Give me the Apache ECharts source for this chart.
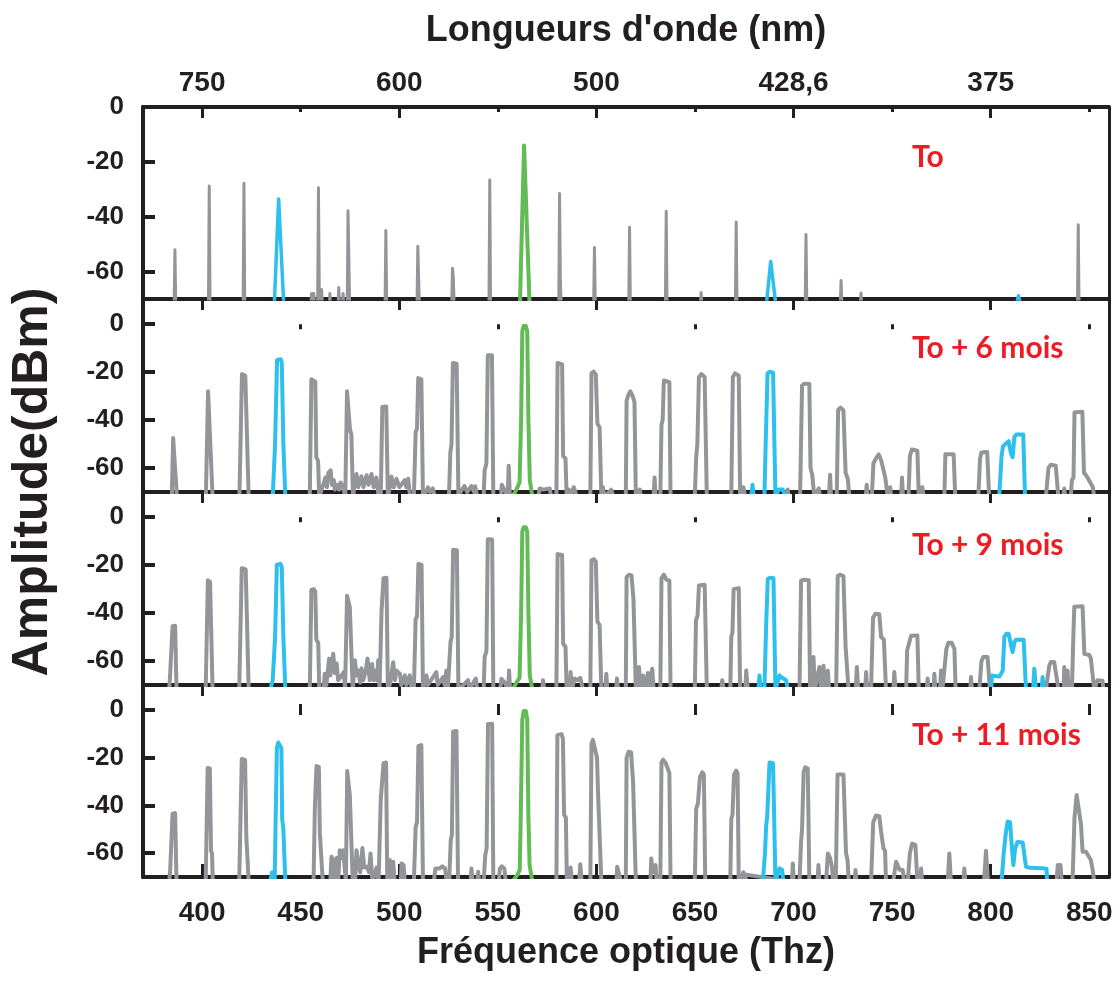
<!DOCTYPE html>
<html>
<head>
<meta charset="utf-8">
<script src="https://cdn.jsdelivr.net/npm/echarts@6/dist/echarts.min.js"></script>
<style>
html,body{margin:0;padding:0;background:#fff;}
#chart{width:1120px;height:984px;}
</style>
</head>
<body>
<div id="chart"></div>
<script>
// ---------- DATA ----------
const topTickFreqs = [400, 500, 600, 700, 800];
const wavelengthLabels = ['750', '600', '500', '428,6', '375'];
const minorTickFreqs = [450, 550, 650, 750, 850];
const bottomTickLabels = [400, 450, 500, 550, 600, 650, 700, 750, 800, 850];
const yTicks = [-60, -40, -20, 0];
const panelLabels = ['To', 'To + 6 mois', 'To + 9 mois', 'To + 11 mois'];

// Panel 1 : To
const p1Gray = [[370,-72],
[385.8,-72],[386.2,-52],[386.6,-72],
[403.2,-72],[403.6,-28.8],[404.0,-72],
[420.8,-72],[421.2,-27.8],[421.6,-72],
[455.2,-72],[455.5,-68],[456.6,-68],[457.0,-72],
[458.6,-72],[459.0,-29.4],[459.4,-66],[459.8,-72],
[460.3,-72],[460.6,-66.5],[461,-72],[464.5,-72],[464.8,-68],[465.2,-72],
[469.0,-72],[469.3,-65.8],[469.7,-72],[471.2,-72],[471.5,-68],[471.8,-72],
[473.6,-72],[474.0,-37.8],[474.4,-55],[474.8,-72],
[492.8,-72],[493.2,-45],[493.6,-72],
[509.0,-72],[509.4,-50.8],[509.8,-62],[510.2,-72],
[526.6,-72],[527.0,-58.8],[527.4,-62],[527.8,-72],
[545.5,-72],[545.9,-26.6],[546.3,-72],
[580.9,-72],[581.3,-31.5],[581.7,-63.5],[582.1,-72],
[598.6,-72],[599.0,-51.2],[599.4,-72],
[616.4,-72],[616.8,-43.8],[617.2,-72],
[635.0,-72],[635.4,-38],[635.8,-72],
[652.7,-72],[653.1,-67.6],[653.5,-72],
[670.5,-72],[670.9,-41.9],[671.3,-72],
[705.9,-72],[706.3,-46.5],[706.7,-72],
[723.7,-72],[724.1,-63.3],[724.5,-72],
[733.8,-72],[734.2,-67.8],[734.6,-72],
[844.0,-72],[844.4,-42.9],[844.8,-72],
[860,-72]];
const p1Blue = [[436.6,-72],[438.8,-33.5],[439.4,-33.5],[441.4,-72],
[686.2,-72],[688.4,-56.3],[688.9,-56.3],[691.0,-72],
[813.0,-72],[814.1,-68.8],[815.2,-72]];
const p1Green = [[561.2,-72],[563.3,-14],[563.9,-14],[566.1,-72]];

// Panel 2 : To + 6 mois
const p2Gray = [[370,-72],
[384.6,-72],[385.3,-47.5],[386.3,-48],[387.2,-72],
[401.9,-72],[403.0,-28],[403.8,-28.5],[405.3,-72],
[418.9,-72],[420.2,-20.8],[421.9,-21.5],[423.6,-72],
[454.6,-72],[455.4,-23],[456.4,-23.3],[457.4,-24],[457.9,-55.5],[458.8,-57],[459.4,-72],
[460.3,-72],[461.8,-66],[462.5,-64],[463.3,-68],[464,-62],[465.2,-61],[465.8,-67],[466.8,-65],[467.3,-69],[468.6,-67],[469.4,-69],[470.2,-66],[471.5,-68],[472.6,-72],
[472.9,-72],[473.5,-28],[474.5,-28.5],[475.0,-44],[475.7,-46],[476.5,-72],
[477.5,-66],[478.3,-62.5],[479.2,-68],[480.8,-63.5],[481.8,-68],[483.4,-63],[484.4,-67],[485.9,-62.5],[487,-68],[488.4,-64],[489.5,-72],
[490.6,-72],[491.4,-34.5],[492.0,-33.8],[493.4,-34.3],[494.2,-72],
[495.2,-68],[496.0,-63.5],[497.2,-68],[498.6,-64.5],[500,-68],[502.8,-65],[503.5,-68],[504.5,-64.5],[505.5,-72],
[507.4,-72],[508.3,-45],[509.0,-43.5],[509.6,-22.5],[511.2,-23],[512.0,-72],
[513.5,-70],[514.6,-68],[515.6,-70],[517,-68.5],[518,-72],
[525.2,-72],[525.9,-53.5],[526.5,-50],[527.2,-16.2],[529.1,-16.5],[530.0,-72],
[531,-70],[533,-67.5],[534.5,-70],[536.5,-67.5],[538,-70],[538.5,-67.6],[539.5,-72],
[542.8,-72],[543.3,-61],[544.2,-58],[544.9,-13],[547.0,-13],[547.7,-72],
[551.5,-72],[552.0,-67],[553.3,-69],[555.0,-72],[555.5,-59],[556.1,-72],
[570.5,-72],[571.2,-68.5],[573,-69],[576.3,-68.5],[577,-72],
[579.7,-72],[580.3,-16.2],[582.6,-16.8],[583.1,-55],[584.3,-56],[584.9,-72],
[586,-69],[587,-71],[588.5,-68],[590,-72],
[596.9,-72],[597.5,-20.5],[598.6,-19.8],[599.7,-21],[600.5,-41.5],[601.6,-43],[602.5,-72],
[603.3,-68],[604,-72],[607.5,-69],[608.6,-72],
[614.9,-72],[615.3,-32],[616.2,-29.5],[617.2,-28],[618.4,-30],[619.3,-32.5],[620.0,-72],
[622,-69],[622.6,-72],[629.0,-72],[629.5,-64],[630.0,-72],
[632.4,-72],[633.0,-42],[633.6,-40],[634.2,-23.5],[637.0,-24.2],[637.6,-72],
[649.9,-72],[650.6,-55.5],[651.2,-50],[652.0,-22],[653.2,-20.8],[654.9,-22],[656.0,-72],
[668.4,-72],[669.2,-22],[670.3,-20.5],[672.2,-21.5],[672.9,-72],[674.5,-68],[675.5,-72],
[696.5,-72],[697,-69],[697.5,-72],
[703.3,-72],[704.3,-25.5],[705.5,-24.8],[708.0,-25],[708.6,-60],[709.5,-63],[710.5,-72],
[712.8,-68.5],[713.4,-72],[718.0,-72],[718.5,-62.8],[719,-72],
[721.9,-72],[722.6,-35.8],[723.8,-34.8],[725.3,-36],[726.4,-62],[727.5,-64.5],[728.3,-72],
[736.6,-72],[737.1,-67],[737.6,-72],
[739.7,-72],[740.5,-58],[741.8,-56],[743.2,-54.3],[744.5,-57],[746.5,-64],[747.8,-72],
[748.5,-72],[749,-68],[749.5,-72],
[754.6,-72],[755.0,-64],[755.5,-72],[758.3,-72],[759.0,-55],[760.0,-52.3],[762.8,-52.8],[763.5,-72],[765.3,-68],[766,-72],
[776.5,-72],[777.0,-54.3],[781.2,-54.3],[782.0,-72],
[793.7,-72],[794.6,-56],[795.3,-53.5],[798.2,-53.3],[799.2,-72],
[828.0,-72],[829.3,-60],[830.5,-58.6],[833.0,-59],[834.3,-72],
[836.8,-72],[837.3,-68.5],[837.8,-72],
[840.6,-72],[841.2,-65],[842.0,-64],[842.5,-36.8],[843.5,-36.3],[846.5,-36.5],[847.3,-62],[848.8,-63.5],[850.5,-66],[851.8,-68],[852.5,-72],[860,-72]];
const p2Blue = [[434.5,-72],[435.8,-72],[437.0,-50],[438.0,-15],[438.8,-14.4],[439.8,-14.6],[440.4,-16],[441.2,-50],[442.2,-72],
[678.5,-72],[679.2,-67],[679.8,-72],[685.2,-72],[686.0,-45],[686.8,-20.5],[688.0,-19.8],[689.6,-20.2],[690.8,-72],[692.5,-69],[694.5,-69],[696,-72],
[804.3,-72],[805.5,-55],[806.2,-51],[807.4,-50],[809.1,-48.8],[810.3,-54],[811.1,-55.5],[812.0,-47],[813,-46],[816.5,-46],[817.4,-72]];
const p2Green = [[557.4,-72],[559.4,-69],[561.0,-66],[561.8,-40],[562.4,-3],[563.1,-0.8],[564.2,-0.8],[564.9,-3],[565.5,-40],[566.2,-65],[567.5,-72]];

// Panel 3 : To + 9 mois
const p3Gray = [[370,-72],
[383.3,-72],[383.8,-65],[384.6,-65.5],[385.0,-45.5],[386.3,-45.3],[387.0,-72],
[401.8,-72],[402.9,-26.3],[404.0,-27],[405.3,-72],
[418.8,-72],[420.1,-21.3],[422.1,-21.8],[423.6,-72],
[454.6,-72],[455.4,-30.3],[456.6,-30],[457.4,-31],[457.9,-51],[458.9,-52.5],[459.4,-72],
[461.5,-72],[462.2,-65.3],[463,-70],[464.4,-59],[465,-66],[466.5,-57],[467.3,-65],[468.2,-61],[469,-68],[469.9,-68.8],[470.8,-66],[471.9,-64.5],[472.5,-72],
[472.9,-72],[473.5,-32.8],[474.5,-32.6],[474.9,-37.5],[475.8,-38],[476.4,-72],
[477.5,-59.7],[478.3,-66],[479.1,-64],[480.2,-69],[480.8,-63],[481.7,-68],[483.0,-64],[483.9,-59],[485,-68],[486.2,-61.2],[487,-68],[488.1,-64],[488.7,-68],[489.3,-59.7],[490,-72],
[490.6,-72],[491.0,-39],[491.6,-38.5],[492.0,-25.5],[493.5,-25.3],[494.2,-72],
[495.5,-69],[496.9,-60.5],[497.8,-68],[498.6,-64],[500.3,-65.3],[501,-70],[502.8,-66],[503.5,-70],[505.3,-66],[506.2,-72],
[507.4,-72],[508.3,-42.5],[509.0,-41.5],[509.7,-19.5],[511.3,-19.8],[512.0,-72],
[513.8,-66],[514.5,-70],[518.8,-64.6],[519.5,-70],[522.2,-66.7],[523,-70],[523.9,-64],[524.6,-72],
[525.3,-72],[526.0,-52],[526.6,-50],[527.3,-13.6],[529.2,-13.8],[530.0,-72],
[534.9,-68],[535.5,-72],[538.8,-67.3],[539.5,-72],
[542.8,-72],[543.3,-58.3],[544.2,-56],[544.9,-9.2],[547.1,-9.3],[547.7,-72],
[551.2,-72],[551.8,-67.4],[553.5,-69],[555.2,-72],[555.7,-63.9],[556.2,-72],
[572.5,-72],[572.9,-68],[573.5,-72],
[579.7,-72],[580.3,-15.4],[582.6,-15.8],[583.1,-52.8],[584.3,-54],[584.9,-72],
[586.5,-72],[586.9,-64.6],[587.5,-72],[588.9,-67.3],[590.5,-68],[591.8,-67],[593.2,-72],
[596.9,-72],[597.5,-18],[598.6,-17.5],[599.7,-18.5],[600.5,-43.5],[601.6,-45],[602.5,-72],
[604.6,-72],[605.0,-65.3],[605.5,-72],[610.0,-72],[610.4,-67.3],[611,-72],
[614.9,-72],[615.3,-25],[616.5,-24],[617.8,-24.3],[618.8,-34.5],[619.5,-35],[620.0,-72],
[621.2,-72],[621.6,-62.5],[622.3,-72],[623.6,-66],[624.5,-72],[626.1,-65],[626.8,-72],[628.3,-63.2],[629,-72],
[632.4,-72],[633.0,-25.5],[634.2,-24],[635.4,-26],[637.0,-26.5],[637.6,-72],
[649.9,-72],[650.5,-43],[651.3,-41],[652.0,-28.5],[654.9,-28.2],[656.0,-72],
[663.3,-72],[663.8,-68],[664.5,-72],
[667.9,-72],[668.4,-50],[669.0,-48],[669.6,-30],[672.2,-29.6],[672.9,-72],
[675.5,-72],[676.0,-64],[676.8,-72],
[703.0,-72],[703.8,-26.5],[705,-26.1],[707.7,-26.3],[708.4,-72],
[709.5,-72],[710.1,-58.3],[710.8,-72],[713.1,-62.5],[713.8,-72],[715.2,-62],[716,-72],[717.4,-64],[718,-72],
[721.6,-72],[722.4,-24.5],[723.5,-24],[725.3,-24.6],[726.4,-54.2],[727.2,-54.5],[727.9,-72],
[731.5,-72],[732.1,-62.5],[732.8,-72],[736.3,-72],[736.8,-64.6],[737.4,-72],
[739.3,-72],[740.3,-42],[741.5,-40.3],[743.5,-40.5],[744.4,-50],[745.8,-51],[746.9,-72],
[750.6,-72],[751.1,-64.6],[751.7,-72],
[757.1,-72],[757.6,-55.6],[758.4,-55],[759.6,-49.5],[762.8,-49.3],[763.5,-72],
[767.5,-72],[768.0,-67.3],[768.6,-72],[771.0,-72],[771.4,-65.3],[772,-72],[774.3,-72],[774.8,-64],[775.5,-72],
[776.5,-72],[777.5,-55],[778.5,-52.4],[780.2,-52.4],[781.6,-55],[782.2,-72],
[789.6,-72],[790.0,-66.7],[790.5,-72],
[794.2,-72],[795.3,-60],[796.3,-58.3],[798.4,-58.3],[799.6,-72],
[828.0,-72],[829.7,-62],[830.5,-60.4],[832.2,-60.4],[834.4,-72],
[837.0,-72],[837.3,-62.5],[838,-72],[838.7,-72],[839.0,-64],[839.5,-72],
[841.2,-72],[841.9,-50],[842.4,-37.4],[846.6,-37.2],[847.5,-57],[850.0,-57.5],[850.8,-59],[852.5,-72],[854.2,-68],[856.7,-68.2],[857.2,-72],[860,-72]];
const p3Blue = [[434.5,-72],[435.8,-68],[437.0,-50],[437.9,-19.8],[438.9,-19.2],[439.8,-19.5],[440.4,-21],[441.2,-50],[442.2,-72],
[682.2,-72],[682.7,-66],[683.3,-72],[685.2,-72],[686.1,-45],[686.9,-25.8],[688.0,-25.3],[689.8,-25.5],[690.8,-72],[692.9,-66],[694.2,-67],[696.2,-68],[697.1,-72],
[800.3,-72],[800.6,-66],[804.4,-66.5],[806.1,-64],[806.9,-50],[807.9,-48.6],[809.1,-48.6],[810.2,-53],[811.1,-56.3],[812.1,-52],[812.8,-51.1],[816.7,-51.1],[817.9,-72],
[821.5,-72],[822.1,-63.2],[823,-72],[825.8,-72],[826.3,-66.7],[827,-72]];
const p3Green = [[557.4,-72],[559.4,-69],[561.0,-67],[561.8,-40],[562.4,-6],[563.1,-4.2],[564.2,-4.2],[564.9,-6],[565.5,-40],[566.2,-66],[567.5,-72]];

// Panel 4 : To + 11 mois
const p4Gray = [[370,-72],
[383.3,-72],[383.8,-67],[384.6,-67],[385.0,-43.5],[386.3,-43.2],[387.0,-72],
[401.8,-72],[402.8,-24.3],[403.9,-24.5],[404.5,-59],[405.0,-60],[405.4,-72],
[418.8,-72],[420.1,-20.5],[421.8,-21],[422.4,-53],[423.6,-72],
[456.5,-72],[457.2,-40],[458.0,-23.5],[459.2,-23.8],[459.7,-51.5],[460.6,-52],[461.2,-72],
[465.0,-72],[465.6,-61.5],[466.5,-63],[467.2,-72],[468.2,-62],[469.0,-72],[469.8,-58.8],[470.6,-62],[471.5,-58.8],[472.2,-65],
[472.9,-72],[473.6,-25.6],[474.4,-25.4],[474.9,-35.8],[475.8,-36.5],[476.4,-72],
[477.6,-72],[478.3,-58.8],[479.2,-65],[480.2,-68],[481.3,-57.8],[482.2,-66],[483.8,-65.7],[484.6,-68],[485.4,-60.1],[486.4,-72],[488.5,-66],[489.5,-72],
[490.3,-72],[490.6,-37.5],[491.5,-37],[492.0,-22.3],[493.3,-22],[493.9,-72],
[495.2,-62.9],[496.0,-72],[496.9,-63.6],[497.6,-72],[500.8,-72],[501.1,-64.3],[502.2,-65],[502.8,-72],
[507.4,-72],[508.3,-49],[509.0,-47],[509.7,-15],[511.2,-14.7],[512.0,-72],
[517.5,-72],[518.3,-66.4],[520.5,-66.4],[521.8,-65.5],[523.2,-66.4],[524,-72],
[525.3,-72],[526.1,-54.6],[526.7,-52],[527.3,-9],[529.0,-8.8],[529.8,-72],
[536.2,-72],[536.6,-66.4],[537.2,-72],[539.6,-72],[540.0,-67.8],[540.6,-72],
[542.8,-72],[543.6,-60.8],[544.3,-58],[545.0,-5.8],[547.1,-5.7],[547.7,-72],
[550.5,-72],[551,-66.5],[552,-65.5],[553.3,-66.5],[554,-72],
[579.7,-72],[580.2,-10.5],[582.3,-10.1],[583.0,-12],[583.6,-44],[584.5,-45],[585.0,-72],
[586.3,-72],[586.9,-66],[587.5,-72],[591.3,-72],[591.8,-64.7],[592.5,-72],
[596.9,-72],[597.5,-14],[598.2,-12.5],[599.2,-13],[600.3,-20],[600.8,-34.4],[601.8,-35],[602.5,-72],
[610.2,-72],[610.5,-65.7],[611.5,-65],[612.5,-72],
[614.9,-72],[615.3,-20],[616.3,-17.5],[617.6,-17.8],[618.6,-30.3],[619.4,-31],[620.0,-72],
[627.4,-72],[627.8,-62.2],[628.5,-68],[630.0,-65],[630.5,-72],
[632.4,-72],[633.0,-22],[633.8,-20.8],[635.0,-22],[637.0,-26.4],[637.6,-72],
[649.9,-72],[650.6,-41.4],[651.5,-39],[652.5,-28],[653.7,-26.1],[654.5,-27],[655.2,-72],
[667.9,-72],[668.4,-45.6],[669.0,-44],[669.8,-27],[670.9,-25.4],[671.6,-26.5],[672.2,-72],
[673.9,-70],[674.5,-68],[675.4,-72],[676.0,-69],
[699.2,-72],[699.6,-64.3],[700.1,-72],[703.0,-72],[703.8,-55.3],[704.3,-50],[705.1,-26],[705.9,-24],[707.2,-24.5],[708.0,-72],
[712.2,-72],[712.6,-65],[713.1,-72],[716.5,-72],[717.4,-60.1],[718.5,-62],[719.5,-66],[720.0,-72],
[721.4,-72],[722.3,-27],[723.3,-26.4],[725.3,-27],[726.6,-60],[727.4,-63],[728.0,-72],
[731.0,-72],[731.4,-67.1],[731.9,-72],
[739.3,-72],[740.4,-47],[741.8,-44.2],[743.5,-44.5],[744.4,-51],[745.6,-58],[746.4,-59],[746.9,-72],
[750.5,-72],[752.0,-63.6],[753.8,-67],[755.4,-67.1],[756,-72],
[757.9,-72],[759.0,-60],[760.1,-56],[761.0,-55.6],[761.8,-56.5],[762.8,-72],[764.3,-72],[764.7,-66.4],[765.2,-72],
[778.2,-72],[779.0,-60.1],[779.8,-72],[786.2,-72],[786.6,-66.4],[787.1,-72],
[796.6,-72],[797.6,-59],[798.6,-72],
[833.4,-72],[834.0,-65],[835.4,-65],[836.0,-72],
[841.5,-72],[842.5,-45],[843.6,-35.6],[844.6,-36],[845.8,-48],[846.6,-59.4],[848.3,-59.4],[850.8,-62.9],[851.7,-67],[852.5,-72],[860,-72]];
const p4Blue = [[434.5,-72],[435.5,-68],[436.1,-70],[436.8,-72],[437.3,-45],[437.9,-16],[438.6,-13.6],[439.4,-13.6],[440.2,-16],[440.6,-45.6],[441.2,-50],[442.2,-72],
[684.4,-72],[685.5,-60],[686.1,-48.3],[686.6,-45],[687.8,-22],[689.6,-22.3],[690.8,-72],[692.9,-66.4],[694.2,-67],[694.8,-72],
[805.5,-72],[806.6,-60],[807.6,-52],[808.6,-46.7],[809.8,-47],[810.5,-55],[811.5,-65],[812.4,-58],[813.6,-55.3],[816.2,-55.5],[817.9,-65.7],[819.6,-66.1],[826.0,-66.3],[828.3,-66.5],[828.6,-72]];
const p4Green = [[557.4,-72],[560,-69],[561.1,-67],[561.6,-45],[562.4,-4],[563.1,-0.4],[564.2,-0.4],[564.9,-4],[565.5,-45],[566.1,-65],[567.5,-72]];

const panelGray = [p1Gray, p2Gray, p3Gray, p4Gray];
const panelBlue = [p1Blue, p2Blue, p3Blue, p4Blue];
const panelGreen = [p1Green, p2Green, p3Green, p4Green];

// ---------- LAYOUT / STYLE ----------
const AX = '#231f20';
const GRAY = '#939598', BLUE = '#2dbfee', GREEN = '#62bb55', RED = '#ed1c24';
const SANS = "'Liberation Sans', Arial, Helvetica, sans-serif";
const gridTops = [107, 299, 492, 685];
const gridHeights = [192, 193, 193, 192];
const yMax = [0, 10.5, 10.5, 10.5];
const labelY = [157, 348, 545, 735];

const grids = [], xAxes = [], yAxes = [], series = [];
for (let i = 0; i < 4; i++) {
  grids.push({left: 143, width: 966, top: gridTops[i], height: gridHeights[i], show: false});
  const last = i === 3, first = i === 0;
  // bottom axis (index 3i)
  xAxes.push({
    gridIndex: i, type: 'value', min: 370, max: 860, position: 'bottom',
    axisLine: {show: true, onZero: false, lineStyle: {color: AX, width: 4}},
    axisTick: {show: last, inside: true, length: 13, customValues: topTickFreqs, lineStyle: {color: AX, width: 3}},
    axisLabel: {show: last, customValues: bottomTickLabels, margin: 22, color: AX, fontFamily: SANS, fontWeight: 'bold', fontSize: 28},
    splitLine: {show: false},
    name: last ? 'Fréquence optique (Thz)' : '', nameLocation: 'middle', nameGap: 58,
    nameTextStyle: {color: AX, fontFamily: SANS, fontWeight: 'bold', fontSize: 36}
  });
  // top axis major (3i+1)
  xAxes.push({
    gridIndex: i, type: 'value', min: 370, max: 860, position: 'top',
    axisLine: {show: true, onZero: false, lineStyle: {color: AX, width: 4}},
    axisTick: {show: true, inside: true, length: 11, customValues: topTickFreqs, lineStyle: {color: AX, width: 3}},
    axisLabel: {show: first, customValues: topTickFreqs, margin: 10, color: AX, fontFamily: SANS, fontWeight: 'bold', fontSize: 28,
      formatter: v => wavelengthLabels[topTickFreqs.indexOf(v)] || ''},
    splitLine: {show: false},
    name: first ? "Longueurs d'onde (nm)" : '', nameLocation: 'middle', nameGap: 58,
    nameTextStyle: {color: AX, fontFamily: SANS, fontWeight: 'bold', fontSize: 36}
  });
  // top axis minor (3i+2)
  xAxes.push({
    gridIndex: i, type: 'value', min: 370, max: 860, position: 'top',
    axisLine: {show: false},
    axisTick: {show: true, inside: true, length: 5, customValues: minorTickFreqs, lineStyle: {color: AX, width: 3}},
    axisLabel: {show: false}, splitLine: {show: false}
  });
  // left y (2i)
  yAxes.push({
    gridIndex: i, type: 'value', min: -70, max: yMax[i], position: 'left',
    axisLine: {show: true, onZero: false, lineStyle: {color: AX, width: 4}},
    axisTick: {show: true, inside: true, length: 12, customValues: yTicks, lineStyle: {color: AX, width: 4}},
    axisLabel: {show: true, customValues: yTicks, margin: 19, color: AX, fontFamily: SANS, fontWeight: 'bold', fontSize: 26},
    splitLine: {show: false}
  });
  // right y (2i+1)
  yAxes.push({
    gridIndex: i, type: 'value', min: -70, max: yMax[i], position: 'right',
    axisLine: {show: true, onZero: false, lineStyle: {color: AX, width: 3}},
    axisTick: {show: false}, axisLabel: {show: false}, splitLine: {show: false}
  });
  const w = first ? 3 : 4;
  series.push({type: 'line', name: 'gray' + i, xAxisIndex: 3 * i, yAxisIndex: 2 * i, data: panelGray[i],
    symbol: 'none', clip: true, lineStyle: {color: GRAY, width: w, join: 'round'}, z: 2});
  series.push({type: 'line', name: 'blue' + i, xAxisIndex: 3 * i, yAxisIndex: 2 * i, data: panelBlue[i],
    symbol: 'none', clip: true, lineStyle: {color: BLUE, width: first ? 3.5 : 4, join: 'round'}, z: 3});
  series.push({type: 'line', name: 'green' + i, xAxisIndex: 3 * i, yAxisIndex: 2 * i, data: panelGreen[i],
    symbol: 'none', clip: true, lineStyle: {color: GREEN, width: 4, join: 'round'}, z: 4});
}
// bottom minor ticks (index 12)
xAxes.push({
  gridIndex: 3, type: 'value', min: 370, max: 860, position: 'bottom',
  axisLine: {show: false},
  axisTick: {show: true, inside: true, length: 6, customValues: minorTickFreqs, lineStyle: {color: AX, width: 3}},
  axisLabel: {show: false}, splitLine: {show: false}
});

const graphics = panelLabels.map((t, i) => ({
  type: 'text', x: 912, y: labelY[i], z: 10,
  style: {text: t, fill: RED, font: "bold 30px Lato, 'Open Sans', sans-serif", verticalAlign: 'middle', align: 'left'}
}));
graphics.push({
  type: 'text', x: 33, y: 482, rotation: Math.PI / 2, z: 10,
  style: {text: 'Amplitude(dBm)', fill: AX, font: "bold 50px 'Liberation Sans', Arial, sans-serif", align: 'center', verticalAlign: 'middle'}
});

const chart = echarts.init(document.getElementById('chart'), null, {renderer: 'canvas'});
chart.setOption({
  animation: false,
  backgroundColor: '#fff',
  grid: grids, xAxis: xAxes, yAxis: yAxes, series: series, graphic: graphics
});
</script>
</body>
</html>
